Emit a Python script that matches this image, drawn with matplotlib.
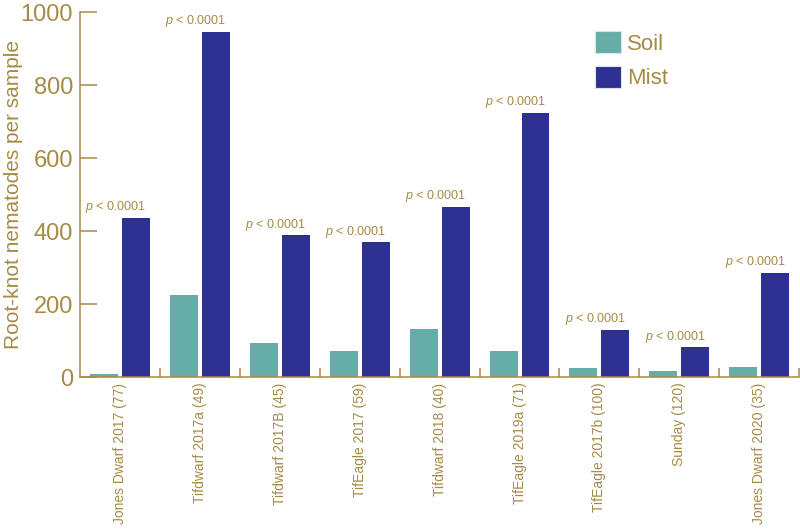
import numpy as np
import matplotlib.pyplot as plt
from matplotlib.ticker import FixedLocator

tan = '#A68B47'
teal = '#66ADA7'
navy = '#2E3192'

plt.rcParams['font.family'] = ['Liberation Sans', 'DejaVu Sans']
plt.rcParams['mathtext.fontset'] = 'custom'
plt.rcParams['mathtext.it'] = 'Liberation Sans:italic'
plt.rcParams['mathtext.rm'] = 'Liberation Sans'

sites = ['Jones Dwarf 2017 (77)', 'Tifdwarf 2017a (49)', 'Tifdwarf 2017B (45)',
         'TifEagle 2017 (59)', 'Tifdwarf 2018 (40)', 'TifEagle 2019a (71)',
         'TifEagle 2017b (100)', 'Sunday (120)', 'Jones Dwarf 2020 (35)']
soil = [7, 226, 93, 70, 131, 70, 25, 16, 27]
mist = [437, 946, 389, 369, 466, 724, 129, 81, 286]
p_text = ['$p$ < 0.0001'] * 9

fig = plt.figure(figsize=(8, 5.29), dpi=100)
ax = fig.add_axes([0.1, 0.2873, 0.899, 0.6894])

x = np.arange(len(sites)) + 0.5
w = 0.35
ax.bar(x - 0.2, soil, w, color=teal, label='Soil')
ax.bar(x + 0.2, mist, w, color=navy, label='Mist')

for xi, m, t in zip(x, mist, p_text):
    ax.annotate(t, (xi - 0.05, m), xytext=(0, 5.5), textcoords='offset points',
                ha='center', va='baseline', color=tan, fontsize=9)

ax.set_xlim(0, 9)
ax.set_ylim(0, 1000)
ax.set_yticks([0, 200, 400, 600, 800, 1000])
ax.tick_params(axis='y', direction='in', length=12, width=1.1, color=tan,
               labelcolor=tan, labelsize=17, pad=5)

ax.set_xticks(x)
ax.set_xticklabels(sites, rotation=90, fontsize=10, color=tan)
ax.tick_params(axis='x', which='major', length=0, pad=4)
ax.xaxis.set_minor_locator(FixedLocator(np.arange(1, 10)))
ax.tick_params(axis='x', which='minor', direction='in', length=6.5, width=1.1, color=tan)

ax.set_ylabel('Root-knot nematodes per sample', color=tan, fontsize=15)
ax.yaxis.set_label_coords(-0.079, 0.5)

for s in ['top', 'right']:
    ax.spines[s].set_visible(False)
for s in ['left', 'bottom']:
    ax.spines[s].set_color(tan)
    ax.spines[s].set_linewidth(1.1)

leg = ax.legend(loc='upper left', bbox_to_anchor=(595 / 800, 1 - 31 / 529),
                bbox_transform=fig.transFigure, frameon=False, fontsize=16,
                handlelength=1.15, handleheight=1.15, labelspacing=0.5,
                handletextpad=0.3, borderpad=0, borderaxespad=0)
for txt in leg.get_texts():
    txt.set_color(tan)
for h in leg.legend_handles:
    h.set_edgecolor('#d8e4ee')
    h.set_linewidth(0.8)

fig.savefig('out.png', dpi=100)
